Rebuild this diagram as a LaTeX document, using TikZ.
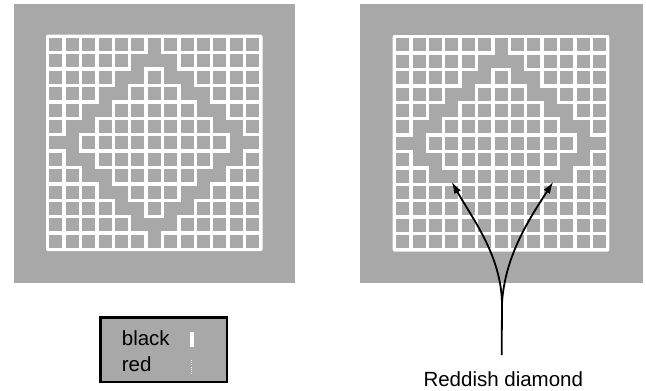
\documentclass[tikz,border=0pt]{standalone}
\usepackage{fontspec}
\setmainfont{Liberation Sans}
\usetikzlibrary{arrows.meta}
\definecolor{ht}{gray}{0.66}
\newcommand\mygrid[3]{%
  \fill[white,rounded corners=2pt] (#1,#2) rectangle ++(216.6,216.6);
  \foreach \r in {0,...,12}{%
    \foreach \c in {0,...,12}{%
      \pgfmathsetmacro\xa{#1+3.4+16.4*\c}%
      \pgfmathsetmacro\ya{#2+3.4+16.4*\r}%
      \fill[ht] (\xa,\ya) rectangle ++(13,13);
      \pgfmathtruncatemacro\dA{abs(\r-6)+abs(\c-6)}%
      \pgfmathtruncatemacro\dR{abs(\r-6)+abs(\c-5)}%
      \pgfmathtruncatemacro\dD{abs(\r-5)+abs(\c-6)}%
      \pgfmathtruncatemacro\bA{and(or(\dA==5,\dA==6),\r<=#3)}%
      \pgfmathtruncatemacro\bR{and(and(or(\dR==5,\dR==6),\r<=#3),\c<12)}%
      \pgfmathtruncatemacro\bD{and(and(or(\dD==5,\dD==6),\r+1<=#3),\r<12)}%
      \ifnum\bA>0
        \ifnum\bR>0 \fill[ht] (\xa,\ya) rectangle ++(29.4,13); \fi
        \ifnum\bD>0 \fill[ht] (\xa,\ya) rectangle ++(13,29.4); \fi
      \fi
    }%
  }%
}
\begin{document}
\begin{tikzpicture}[x=1pt,y=-1pt,
  lab/.style={font=\fontsize{20.5}{24}\selectfont, inner sep=0pt},
  arr/.style={line width=1.8pt, -{Latex[length=12pt,width=7.5pt]}}]
\useasboundingbox (0,0) rectangle (646,391);
\fill[white] (0,0) rectangle (646,391);
% left panel
\fill[ht] (14,4) rectangle (295,283);
\mygrid{46}{34.5}{12}
% right panel
\fill[ht] (360,4) rectangle (643.3,282.7);
\mygrid{392.7}{35}{8}
% legend
\node[draw=black, line width=2.5pt, fill=ht, minimum width=126.5pt, minimum height=64.5pt, inner sep=0pt] (legend) at (163.5,349.5) {};
\node[lab, anchor=base west] (tblack) at (121.7,345) {black};
\node[lab, anchor=base west] (tred) at (121.7,371.7) {red};
\fill[white] (190,332) rectangle (193.5,347);
\draw[white, line width=1.5pt, dash pattern=on 1pt off 1.2pt] (191.7,360) -- (191.7,375);
% arrows
\node[lab, anchor=base] (lbl) at (503.3,386) {Reddish diamond};
\coordinate (stem) at (501.7,355);
\coordinate (split) at (502,303);
\coordinate (tipL) at (451.7,181.7);
\coordinate (tipR) at (553.3,181.7);
\draw[line width=1.8pt] (stem) -- (split);
\draw[arr] (split) .. controls (501,255) and (472,218) .. (tipL);
\draw[arr] (split) .. controls (505,255) and (530,218) .. (tipR);
\end{tikzpicture}
\end{document}
